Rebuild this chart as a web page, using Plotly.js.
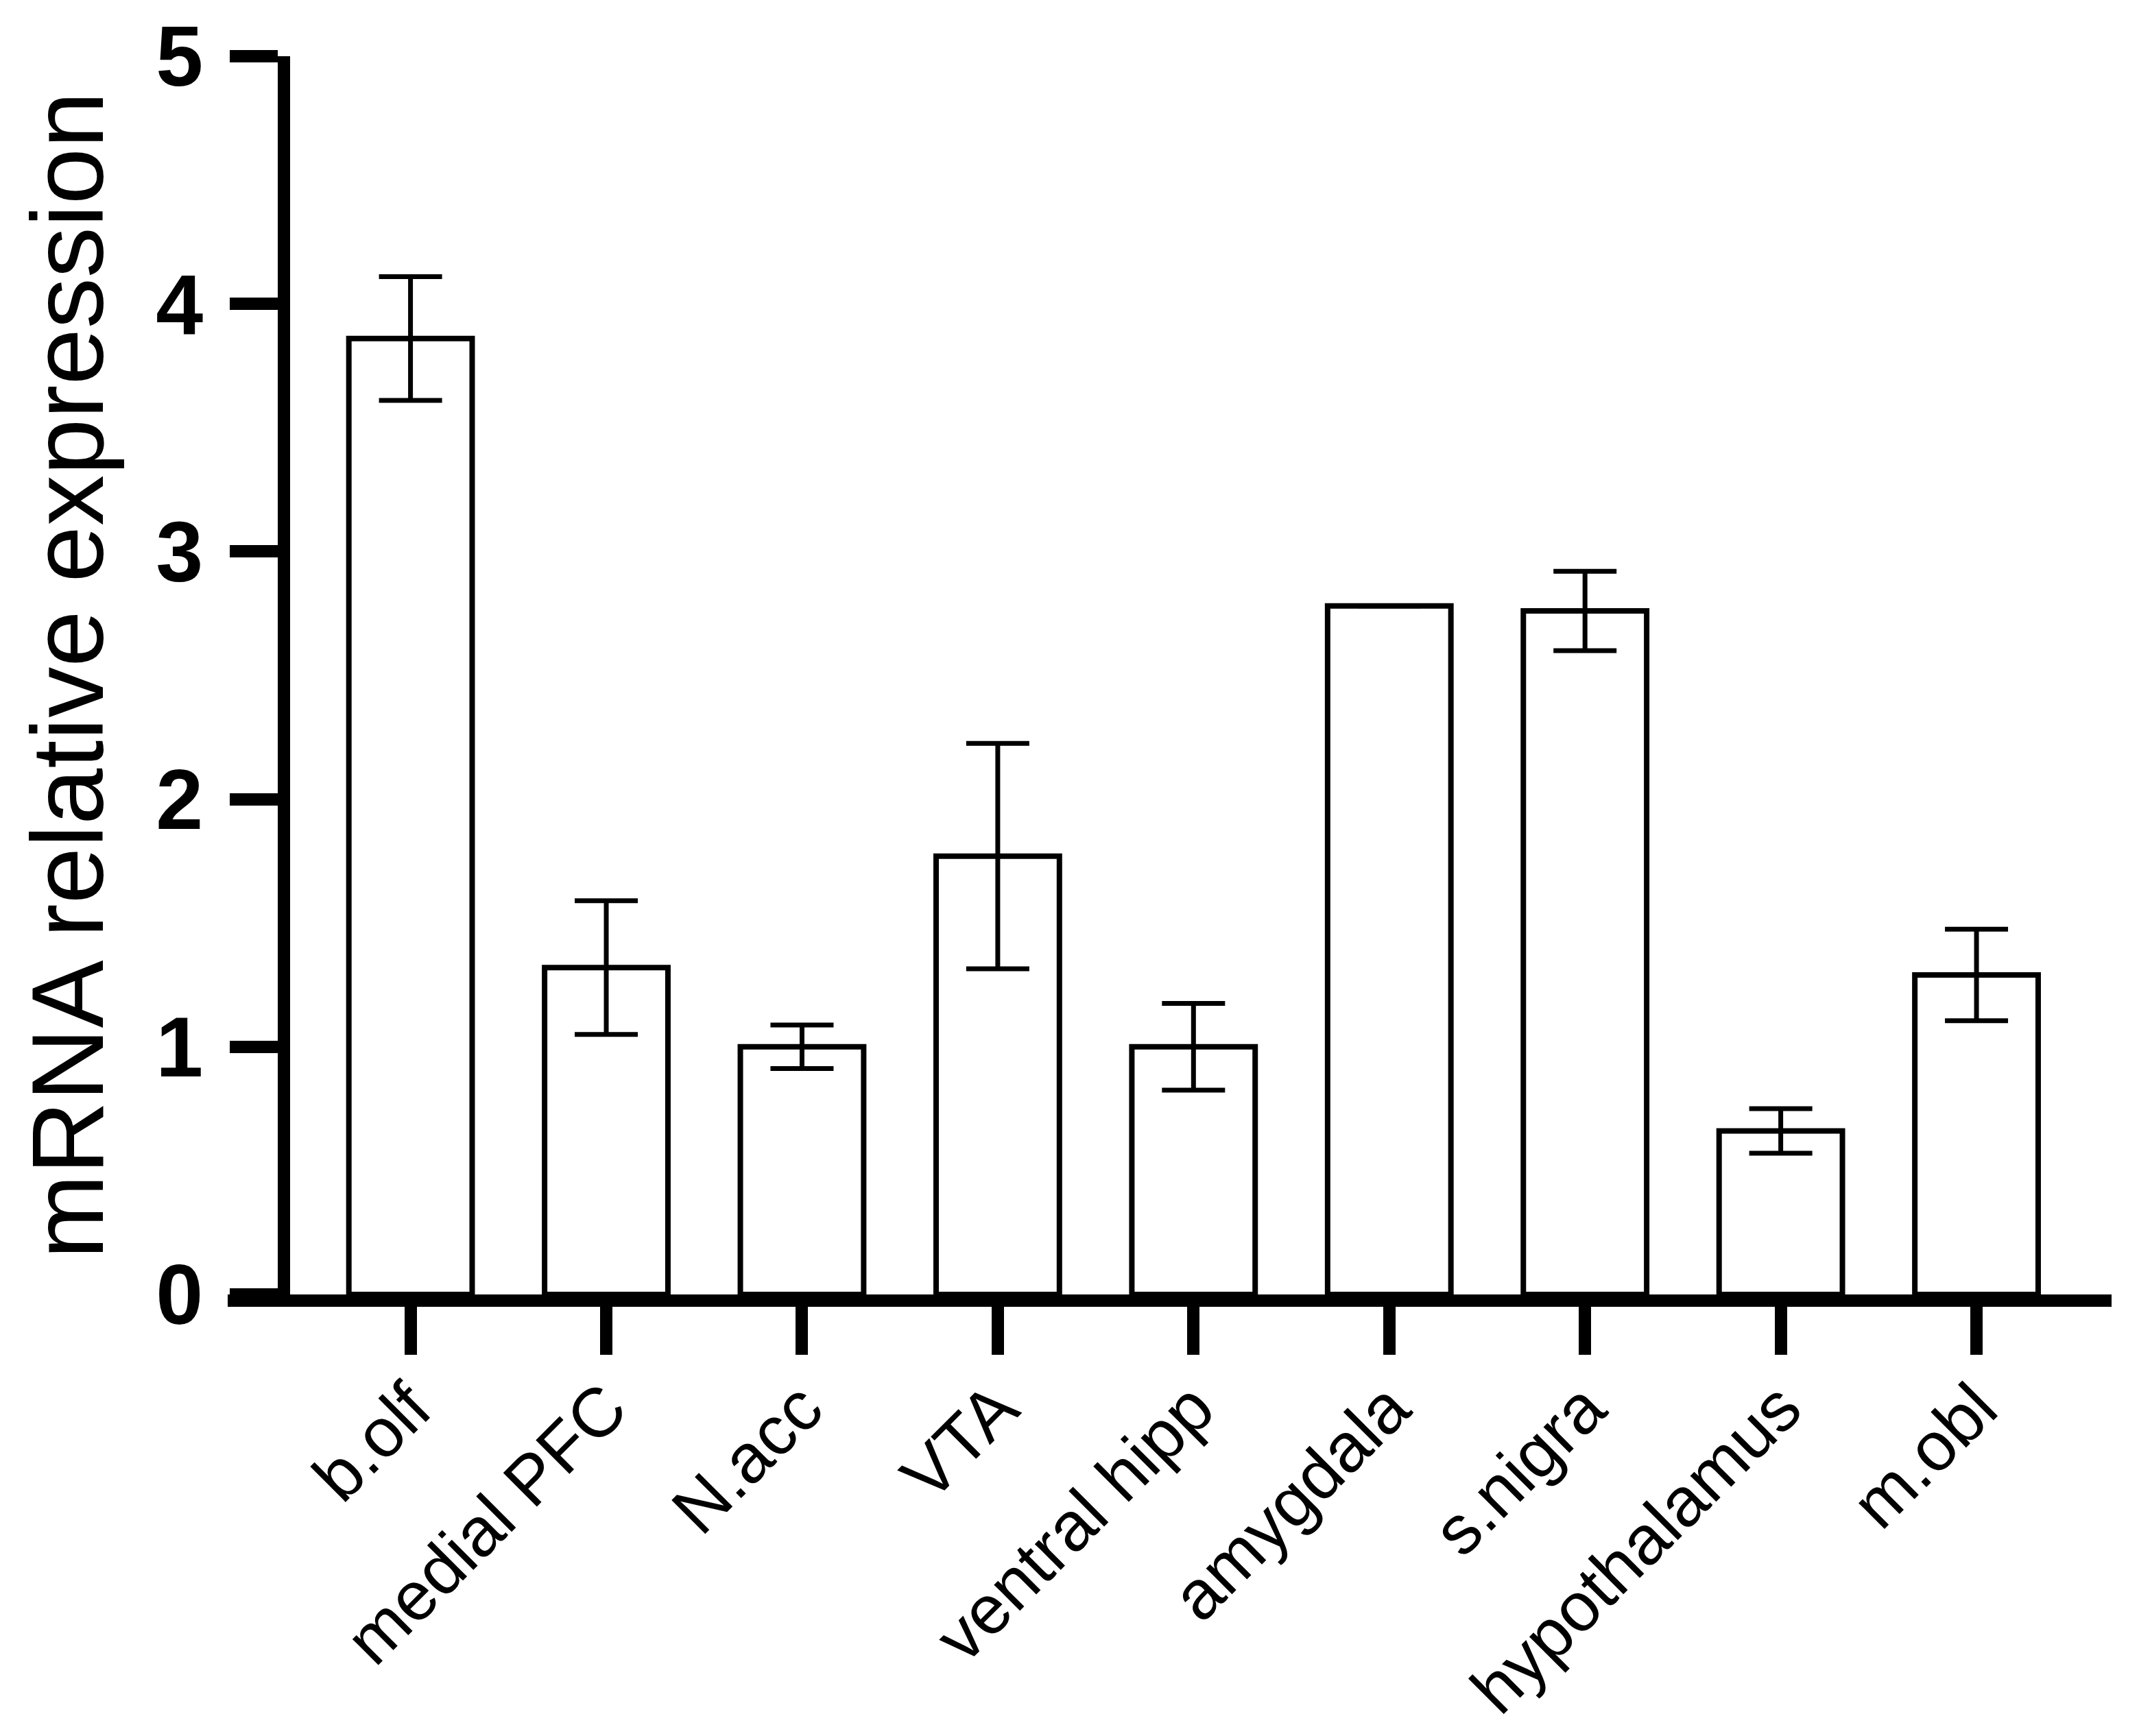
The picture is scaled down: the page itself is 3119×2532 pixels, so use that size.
<!DOCTYPE html>
<html>
<head>
<meta charset="utf-8">
<script src="https://cdn.plot.ly/plotly-3.0.1.min.js"></script>
<style>
  html, body { margin: 0; padding: 0; background: #ffffff; }
  #chart { width: 3119px; height: 2532px; }
</style>
</head>
<body>
<div id="chart"></div>
<script>
// Data
const regions = ["b.olf", "medial PFC", "N.acc", "VTA", "ventral hipp", "amygdala", "s.nigra", "hypothalamus", "m.obl"];
const meanExpression = [3.86, 1.32, 1.00, 1.77, 1.00, 2.78, 2.76, 0.66, 1.29];
const errorSEM = [0.25, 0.27, 0.088, 0.455, 0.175, 0, 0.16, 0.09, 0.185];
const yTickValues = [0, 1, 2, 3, 4, 5];
const yTickLabels = ["0", "1", "2", "3", "4", "5"];
const yAxisTitle = "mRNA relative expression";

const FONT = "Liberation Sans, Arial, Helvetica, sans-serif";

const trace = {
  type: "bar",
  x: regions,
  y: meanExpression,
  width: 0.63,
  marker: { color: "#ffffff", line: { color: "#000000", width: 8 } },
  error_y: {
    type: "data",
    array: errorSEM,
    visible: true,
    color: "#000000",
    thickness: 7,
    width: 46
  },
  hoverinfo: "x+y",
  showlegend: false
};

const layout = {
  width: 3119,
  height: 2532,
  margin: { l: 332, r: 40, t: 82, b: 644 },
  paper_bgcolor: "#ffffff",
  plot_bgcolor: "#ffffff",
  showlegend: false,
  font: { family: FONT, color: "#000000" },
  xaxis: {
    type: "category",
    range: [-0.934, 8.69],
    showline: true,
    linecolor: "#000000",
    linewidth: 18,
    ticks: "outside",
    ticklen: 70,
    tickwidth: 18,
    tickcolor: "#000000",
    tickangle: -45,
    ticklabelstandoff: -22,
    tickfont: { family: FONT, size: 101, color: "#000000" },
    showgrid: false,
    zeroline: false,
    fixedrange: true
  },
  yaxis: {
    anchor: "free",
    position: 0.0299,
    range: [0, 5],
    tickvals: yTickValues,
    ticktext: yTickLabels,
    showline: true,
    linecolor: "#000000",
    linewidth: 18,
    ticks: "outside",
    ticklen: 70,
    tickwidth: 18,
    tickcolor: "#000000",
    ticklabelstandoff: 14,
    tickfont: { family: FONT, size: 124, color: "#000000", weight: "bold" },
    showgrid: false,
    zeroline: false,
    fixedrange: true,
    title: { text: yAxisTitle, font: { family: FONT, size: 148, color: "#000000" }, standoff: 26 }
  }
};

Plotly.newPlot("chart", [trace], layout, { staticPlot: true, displayModeBar: false });
</script>
</body>
</html>
